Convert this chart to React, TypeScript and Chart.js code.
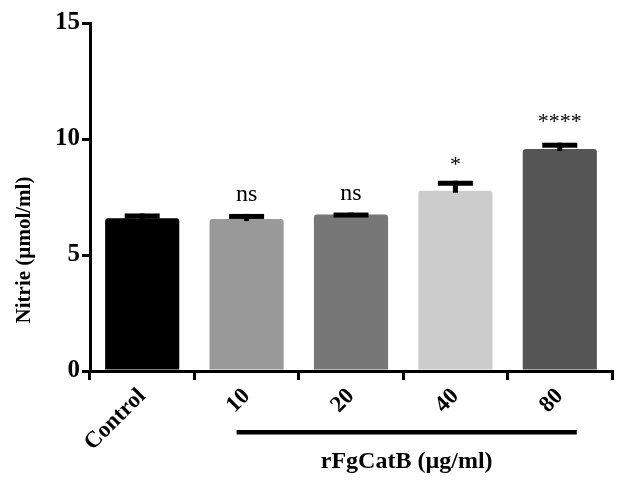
import React, { useEffect, useRef } from "react";
import { Chart, registerables } from "chart.js";

Chart.register(...registerables);

const categories = ["Control", "10", "20", "40", "80"];
const means = [6.58, 6.55, 6.75, 7.77, 9.57];
const errorTops = [6.79, 6.77, 6.83, 8.2, 9.84];
const barColors = ["#000000", "#999999", "#777777", "#cccccc", "#555555"];
const significance = ["", "ns", "ns", "*", "****"];
const yTicks = [0, 5, 10, 15];
const yTitle = "Nitrie (\u00b5mol/ml)";
const groupTitle = "rFgCatB (\u00b5g/ml)";

const SERIF = "'Liberation Serif', 'DejaVu Serif', serif";

const overlayPlugin = {
  id: "overlay",
  afterDatasetsDraw(chart: any) {
    const ctx = chart.ctx;
    const meta = chart.getDatasetMeta(0);
    const yScale = chart.scales.y;
    const xScale = chart.scales.x;
    ctx.save();
    ctx.fillStyle = "#000";
    meta.data.forEach((bar: any, i: number) => {
      const x = bar.x;
      const yTop = yScale.getPixelForValue(errorTops[i]);
      const yBar = bar.y;
      ctx.fillRect(x - 2.5, yTop, 5, Math.max(0, yBar - yTop + 2));
      ctx.fillRect(x - 17.5, yTop, 35, 5);
      const s = significance[i];
      if (s) {
        ctx.textAlign = "center";
        ctx.textBaseline = "alphabetic";
        if (s.startsWith("*")) {
          ctx.font = `22px ${SERIF}`;
          ctx.fillText(s, x, yTop - (s.length > 1 ? 15 : 10));
        } else {
          ctx.font = `24px ${SERIF}`;
          ctx.fillText(s, x, yTop - 13);
        }
      }
    });
    // group line and title
    const x1 = xScale.getPixelForValue(1) - 10;
    const x2 = xScale.getPixelForValue(4) + 17;
    ctx.fillRect(x1, 430, x2 - x1, 4.5);
    ctx.font = `bold 24px ${SERIF}`;
    ctx.textAlign = "center";
    ctx.textBaseline = "middle";
    ctx.fillText(groupTitle, (x1 + x2) / 2, 462);
    // y title
    ctx.translate(25, 250);
    ctx.rotate(-Math.PI / 2);
    ctx.font = `bold 21px ${SERIF}`;
    ctx.textAlign = "center";
    ctx.textBaseline = "middle";
    ctx.fillText(yTitle, 0, 0);
    ctx.restore();
  },
};

export default function App() {
  const ref = useRef<HTMLCanvasElement | null>(null);
  useEffect(() => {
    if (!ref.current) return;
    const chart = new Chart(ref.current, {
      type: "bar",
      data: {
        labels: categories,
        datasets: [
          {
            data: means,
            backgroundColor: barColors,
            borderWidth: 0,
            borderRadius: 3,
            borderSkipped: "bottom",
            barPercentage: 0.71,
            categoryPercentage: 1,
          },
        ],
      },
      options: {
        animation: false,
        responsive: true,
        maintainAspectRatio: false,
        layout: { padding: { top: 23, right: 18, left: 0, bottom: 0 } },
        plugins: { legend: { display: false }, tooltip: { enabled: false } },
        scales: {
          x: {
            afterFit: (s: any) => {
              s.height = 115;
            },
            grid: {
              display: true,
              drawOnChartArea: false,
              drawTicks: true,
              tickLength: 9,
              lineWidth: 3,
              color: "#000",
            },
            border: { display: true, color: "#000", width: 3 },
            ticks: {
              color: "#000",
              font: { family: SERIF, size: 23, weight: "bold" },
              minRotation: 45,
              maxRotation: 45,
              padding: 3,
            },
          },
          y: {
            min: 0,
            max: 15,
            afterFit: (s: any) => {
              s.width = 90;
            },
            afterBuildTicks: (s: any) => {
              s.ticks = yTicks.map((v) => ({ value: v }));
            },
            grid: {
              display: true,
              drawOnChartArea: false,
              drawTicks: true,
              tickLength: 8,
              lineWidth: 3,
              color: "#000",
            },
            border: { display: true, color: "#000", width: 3 },
            ticks: {
              color: "#000",
              font: { family: SERIF, size: 25, weight: "bold" },
              padding: 2,
            },
          },
        },
      },
      plugins: [overlayPlugin],
    });
    return () => chart.destroy();
  }, []);
  return (
    <div style={{ position: "absolute", left: 0, top: 0, width: 630, height: 486, background: "#fff" }}>
      <canvas ref={ref} />
    </div>
  );
}
